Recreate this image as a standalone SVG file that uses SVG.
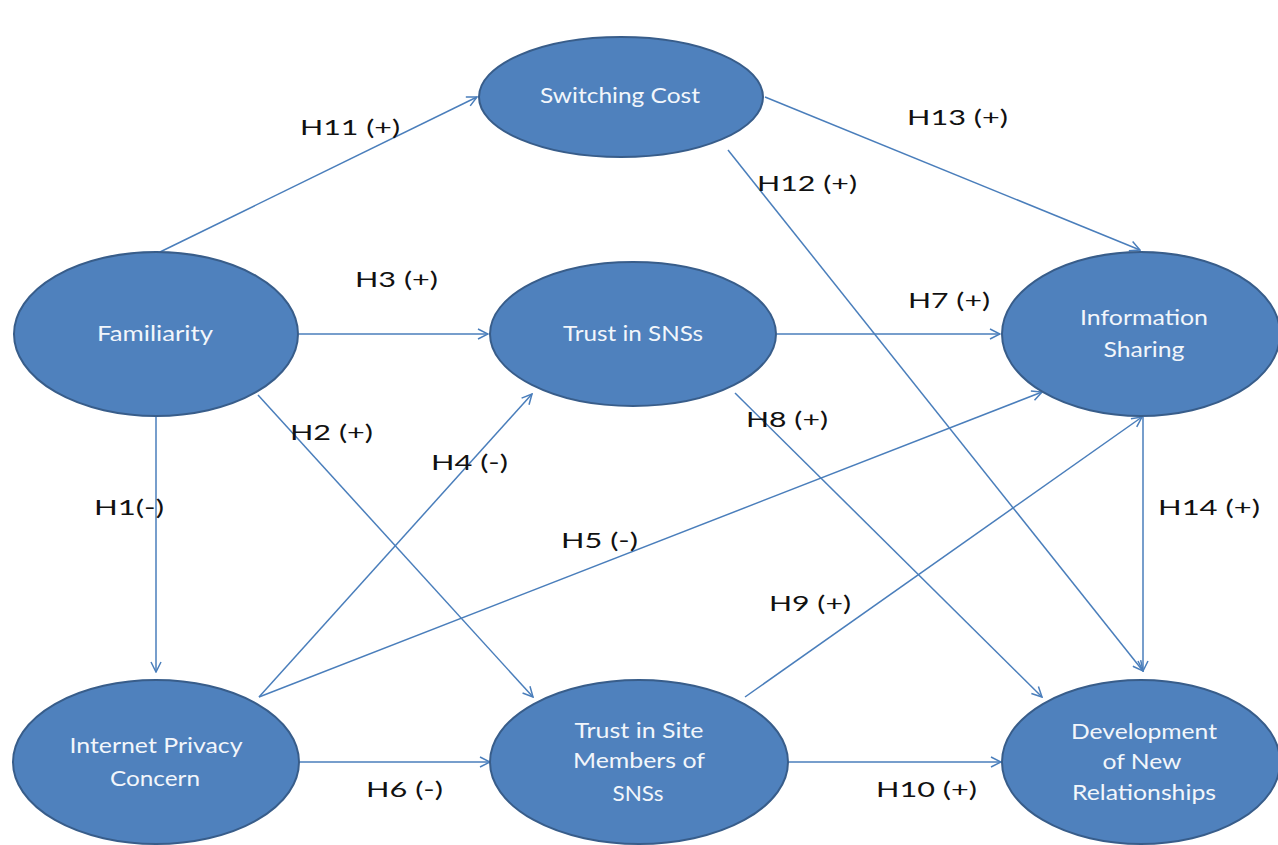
<svg xmlns="http://www.w3.org/2000/svg" width="1278" height="845" viewBox="0 0 1278 845">
<defs>
<marker id="arr" viewBox="0 0 12 12" refX="11" refY="6" markerWidth="12" markerHeight="12" markerUnits="userSpaceOnUse" orient="auto">
<path d="M1,1 L11,6 L1,11" fill="none" stroke="#4a7ebb" stroke-width="1.5"/>
</marker>
</defs>
<style>
.node ellipse{fill:#4f81bd;stroke:#385d8a;stroke-width:2}
.node text{fill:#f2f6fb;font-family:Lato,"Liberation Sans",sans-serif;font-size:22px;text-anchor:middle}
#edges line{stroke:#4a7ebb;stroke-width:1.5;marker-end:url(#arr)}
.lbl{fill:#111;font-family:Lato,"Liberation Sans",sans-serif;font-size:22px}
</style>
<rect width="1278" height="845" fill="#fff"/>
<g id="edges">
<line x1="160" y1="252" x2="477" y2="97"/>
<line x1="299" y1="334" x2="488" y2="334"/>
<line x1="765" y1="97" x2="1140" y2="250"/>
<line x1="728" y1="150" x2="1143" y2="671"/>
<line x1="777" y1="334" x2="1000" y2="334"/>
<line x1="735" y1="393" x2="1042" y2="697"/>
<line x1="259" y1="697" x2="1042" y2="392"/>
<line x1="745" y1="697" x2="1142" y2="417"/>
<line x1="1143" y1="417" x2="1143" y2="671"/>
<line x1="156" y1="416" x2="156" y2="672"/>
<line x1="258" y1="395" x2="533" y2="697"/>
<line x1="259" y1="697" x2="532" y2="394"/>
<line x1="300" y1="762" x2="490" y2="762"/>
<line x1="789" y1="762" x2="1001" y2="762"/>
</g>
<g id="labels">
<text class="lbl" x="300" y="135" textLength="100" lengthAdjust="spacingAndGlyphs">H11 (+)</text>
<text class="lbl" x="907" y="125" textLength="101" lengthAdjust="spacingAndGlyphs">H13 (+)</text>
<text class="lbl" x="757" y="191" textLength="100" lengthAdjust="spacingAndGlyphs">H12 (+)</text>
<text class="lbl" x="355" y="287" textLength="83" lengthAdjust="spacingAndGlyphs">H3 (+)</text>
<text class="lbl" x="908" y="308" textLength="82" lengthAdjust="spacingAndGlyphs">H7 (+)</text>
<text class="lbl" x="290" y="440" textLength="83" lengthAdjust="spacingAndGlyphs">H2 (+)</text>
<text class="lbl" x="746" y="427" textLength="82" lengthAdjust="spacingAndGlyphs">H8 (+)</text>
<text class="lbl" x="431" y="470" textLength="77" lengthAdjust="spacingAndGlyphs">H4 (-)</text>
<text class="lbl" x="94" y="515" textLength="70" lengthAdjust="spacingAndGlyphs">H1(-)</text>
<text class="lbl" x="1158" y="515" textLength="102" lengthAdjust="spacingAndGlyphs">H14 (+)</text>
<text class="lbl" x="561" y="548" textLength="77" lengthAdjust="spacingAndGlyphs">H5 (-)</text>
<text class="lbl" x="769" y="611" textLength="82" lengthAdjust="spacingAndGlyphs">H9 (+)</text>
<text class="lbl" x="366" y="797" textLength="77" lengthAdjust="spacingAndGlyphs">H6 (-)</text>
<text class="lbl" x="876" y="797" textLength="101" lengthAdjust="spacingAndGlyphs">H10 (+)</text>
</g>
<g id="switching-cost" class="node">
<ellipse cx="621" cy="97" rx="142" ry="60"/>
<text x="620" y="103" textLength="160" lengthAdjust="spacingAndGlyphs">Switching Cost</text>
</g>
<g id="familiarity" class="node">
<ellipse cx="156" cy="334" rx="142" ry="82"/>
<text x="155" y="341" textLength="116" lengthAdjust="spacingAndGlyphs">Familiarity</text>
</g>
<g id="trust-sns" class="node">
<ellipse cx="633" cy="334" rx="143" ry="72"/>
<text x="633" y="341" textLength="140" lengthAdjust="spacingAndGlyphs">Trust in SNSs</text>
</g>
<g id="information-sharing" class="node">
<ellipse cx="1141" cy="334" rx="139" ry="82"/>
<text x="1144" y="325" textLength="128" lengthAdjust="spacingAndGlyphs">Information</text>
<text x="1144" y="357" textLength="81" lengthAdjust="spacingAndGlyphs">Sharing</text>
</g>
<g id="internet-privacy-concern" class="node">
<ellipse cx="156" cy="762" rx="143" ry="82"/>
<text x="156" y="753" textLength="173" lengthAdjust="spacingAndGlyphs">Internet Privacy</text>
<text x="155" y="786" textLength="90" lengthAdjust="spacingAndGlyphs">Concern</text>
</g>
<g id="trust-site-members" class="node">
<ellipse cx="639" cy="762" rx="149" ry="82"/>
<text x="639" y="738" textLength="129" lengthAdjust="spacingAndGlyphs">Trust in Site</text>
<text x="639" y="768" textLength="132" lengthAdjust="spacingAndGlyphs">Members of</text>
<text x="638" y="801" textLength="51" lengthAdjust="spacingAndGlyphs">SNSs</text>
</g>
<g id="development" class="node">
<ellipse cx="1141" cy="762" rx="139" ry="82"/>
<text x="1144" y="739" textLength="146" lengthAdjust="spacingAndGlyphs">Development</text>
<text x="1142" y="769" textLength="79" lengthAdjust="spacingAndGlyphs">of New</text>
<text x="1144" y="800" textLength="144" lengthAdjust="spacingAndGlyphs">Relationships</text>
</g>
</svg>
